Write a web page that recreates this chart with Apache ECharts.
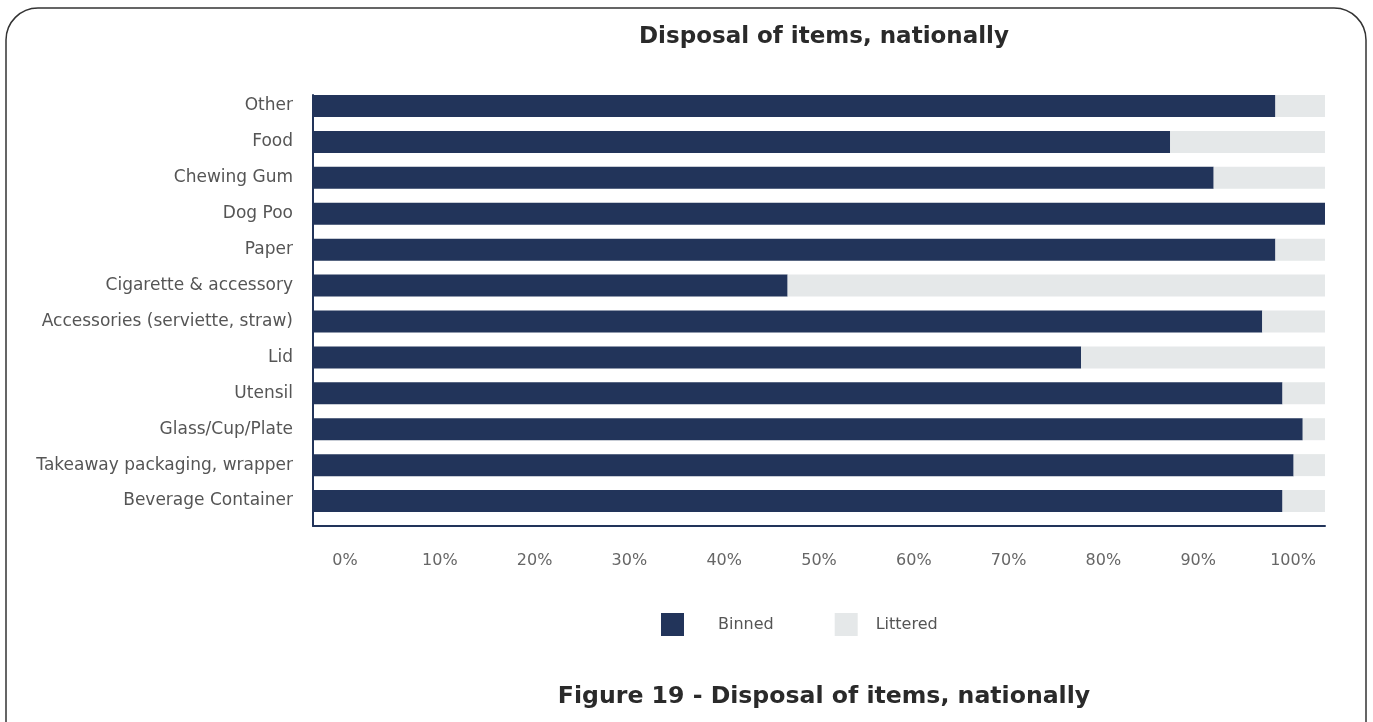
<!DOCTYPE html>
<html><head><meta charset="utf-8">
<script src="https://cdn.jsdelivr.net/npm/echarts@6/dist/echarts.min.js"></script>
<style>html,body{margin:0;padding:0;background:#fff}#c{width:1373px;height:722px}</style>
</head><body><div id="c"></div>
<script>
const categories = ["Beverage Container","Takeaway packaging, wrapper","Glass/Cup/Plate","Utensil","Lid","Accessories (serviette, straw)","Cigarette & accessory","Paper","Dog Poo","Chewing Gum","Food","Other"];
const binned = [95.8, 96.9, 97.8, 95.8, 75.9, 93.8, 46.9, 95.1, 100, 89.0, 84.7, 95.1];
const littered = [4.2, 3.1, 2.2, 4.2, 24.1, 6.2, 53.1, 4.9, 0, 11.0, 15.3, 4.9];
const tickValues = [0,10,20,30,40,50,60,70,80,90,100];
const FONT = "'DejaVu Sans', sans-serif";
const NAVY = '#22345a', GREY = '#e5e8e9';
const chart = echarts.init(document.getElementById('c'));
chart.setOption({
  animation:false,
  graphic:[{type:'rect',shape:{x:6,y:8,width:1360,height:760,r:32},style:{fill:'none',stroke:'#333',lineWidth:1.5},z:-1}],
  title:[
    {text:'Disposal of items, nationally',left:819,top:21,textAlign:'center',textStyle:{fontFamily:FONT,fontSize:23,fontWeight:'bold',color:'#2a2a2a'}},
    {text:'Figure 19 - Disposal of items, nationally',left:819,top:680,textAlign:'center',textStyle:{fontFamily:FONT,fontSize:23.6,fontWeight:'bold',color:'#2a2a2a'}}
  ],
  legend:{left:656,top:608,itemWidth:23,itemHeight:23,itemGap:61,icon:'rect',
    textStyle:{fontFamily:FONT,fontSize:16,color:'#555'},
    data:[{name:'Binned',textStyle:{padding:[0,0,0,29]}},{name:'Littered',textStyle:{padding:[0,0,0,13]}}]},
  grid:[
    {left:313,top:88,width:1012,height:431},
    {left:345,top:500,width:948,height:45},
    {left:313,top:95,width:1012,height:431}
  ],
  xAxis:[
    {gridIndex:0,type:'value',min:0,max:100,show:false},
    {gridIndex:1,type:'value',min:0,max:100,interval:10,axisLine:{show:false},axisTick:{show:false},splitLine:{show:false},
      axisLabel:{margin:8,formatter:v=>tickValues.includes(v)?v+'%':'',fontFamily:FONT,fontSize:16,color:'#666'}},
    {gridIndex:2,type:'value',min:0,max:100,axisLine:{show:true,lineStyle:{color:NAVY,width:2}},axisTick:{show:false},axisLabel:{show:false},splitLine:{show:false}}
  ],
  yAxis:[
    {gridIndex:0,type:'category',data:categories,axisLine:{show:false},axisTick:{show:false},
      axisLabel:{margin:20,fontFamily:FONT,fontSize:17,color:'#555'}},
    {gridIndex:1,type:'value',show:false},
    {gridIndex:2,type:'category',data:categories,axisLine:{show:true,lineStyle:{color:NAVY,width:2}},axisTick:{show:false},axisLabel:{show:false}}
  ],
  series:[
    {name:'Binned',type:'bar',stack:'a',xAxisIndex:0,yAxisIndex:0,data:binned,barWidth:22,itemStyle:{color:NAVY}},
    {name:'Littered',type:'bar',stack:'a',xAxisIndex:0,yAxisIndex:0,data:littered,barWidth:22,itemStyle:{color:GREY}}
  ]
});
</script></body></html>
